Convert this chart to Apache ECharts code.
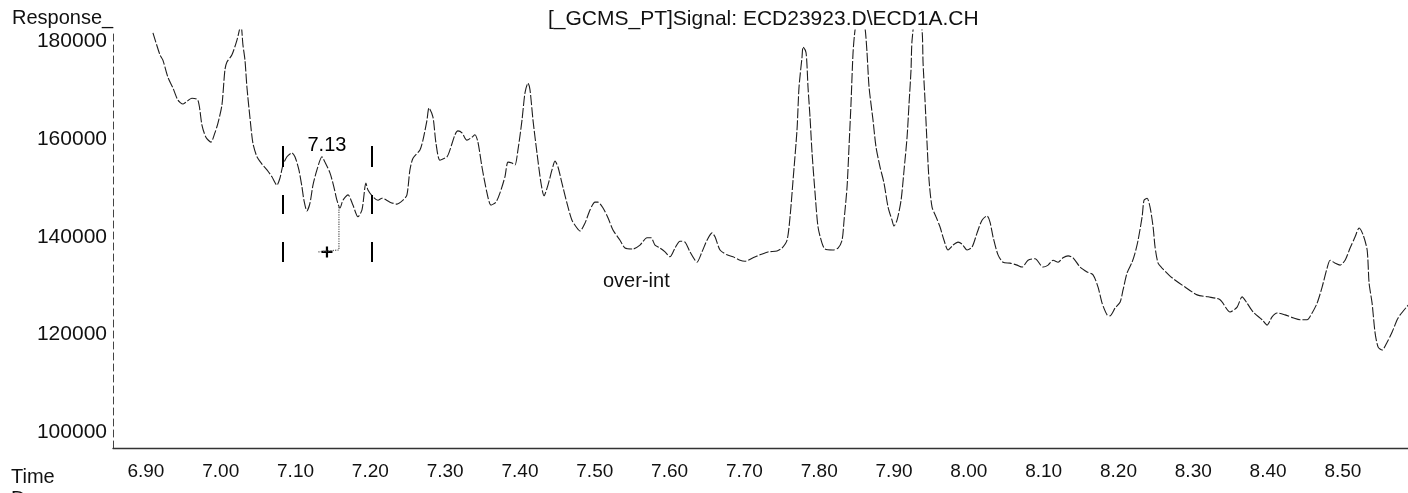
<!DOCTYPE html>
<html>
<head>
<meta charset="utf-8">
<script src="https://cdn.jsdelivr.net/npm/echarts@6/dist/echarts.min.js"></script>
<style>
html,body{margin:0;padding:0;background:#fff;}
#chart{width:1408px;height:493px;}
</style>
</head>
<body>
<div id="chart"></div>
<script>
// ---- data ----
const times = [
6.9094,6.9187,6.9227,6.9294,6.9361,6.9428,6.9495,6.9535,6.9615,6.9695,6.9749,6.9802,6.9869,6.9922,6.9963,7.0016,7.0056,7.0083,7.0150,7.0217,
7.0270,7.0297,7.0324,7.0350,7.0390,7.0430,7.0484,7.0551,7.0618,7.0684,7.0751,7.0791,7.0832,7.0885,7.0952,7.0992,7.1045,7.1086,7.1112,7.1152,
7.1193,7.1233,7.1286,7.1353,7.1393,7.1460,7.1513,7.1553,7.1594,7.1634,7.1701,7.1767,7.1834,7.1888,7.1941,7.1968,7.2035,7.2102,7.2155,7.2262,
7.2356,7.2436,7.2489,7.2529,7.2570,7.2663,7.2703,7.2757,7.2783,7.2837,7.2877,7.2930,7.3024,7.3064,7.3131,7.3171,7.3225,7.3291,7.3358,7.3398,
7.3438,7.3492,7.3559,7.3612,7.3679,7.3733,7.3799,7.3840,7.3893,7.3933,7.3973,7.4027,7.4067,7.4107,7.4134,7.4174,7.4227,7.4281,7.4321,7.4374,
7.4428,7.4468,7.4508,7.4561,7.4628,7.4695,7.4762,7.4802,7.4869,7.4936,7.5003,7.5043,7.5110,7.5176,7.5243,7.5337,7.5404,7.5511,7.5604,7.5698,
7.5751,7.5805,7.5872,7.5939,7.6005,7.6072,7.6139,7.6206,7.6273,7.6340,7.6366,7.6433,7.6500,7.6567,7.6607,7.6674,7.6767,7.6848,7.6941,7.7008,
7.7115,7.7209,7.7316,7.7436,7.7503,7.7570,7.7610,7.7650,7.7703,7.7730,7.7770,7.7784,7.7824,7.7850,7.7877,7.7904,7.7944,7.7984,7.8037,7.8077,
7.8184,7.8251,7.8305,7.8332,7.8372,7.8398,7.8425,7.8452,7.8479,7.8545,7.8612,7.8639,7.8666,7.8719,7.8759,7.8813,7.8866,7.8920,7.8973,7.9000,
7.9040,7.9094,7.9134,7.9174,7.9201,7.9227,7.9241,7.9308,7.9374,7.9388,7.9414,7.9441,7.9468,7.9508,7.9561,7.9615,7.9668,7.9722,7.9789,7.9856,
7.9909,7.9976,8.0043,8.0110,8.0176,8.0243,8.0283,8.0323,8.0390,8.0457,8.0551,8.0644,8.0711,8.0791,8.0885,8.0992,8.1059,8.1126,8.1193,8.1259,
8.1326,8.1393,8.1487,8.1580,8.1660,8.1727,8.1781,8.1848,8.1888,8.1955,8.2021,8.2061,8.2115,8.2182,8.2222,8.2262,8.2316,8.2342,8.2382,8.2422,
8.2463,8.2489,8.2529,8.2583,8.2717,8.2890,8.3051,8.3198,8.3358,8.3492,8.3586,8.3652,8.3719,8.3799,8.3920,8.3987,8.4053,8.4120,8.4227,8.4334,
8.4428,8.4521,8.4588,8.4655,8.4722,8.4789,8.4829,8.4896,8.4963,8.5029,8.5096,8.5163,8.5217,8.5270,8.5324,8.5350,8.5390,8.5430,8.5471,8.5524,
8.5591,8.5658,8.5725,8.5765,8.5872
];
const responses = [
181800,177300,176200,172700,170500,168000,167200,167600,168400,168000,162900,160400,159400,161300,163300,167000,174200,175800,177300,180300,
183400,179300,176200,170700,164500,159200,156400,154900,153700,152300,150600,152000,154700,156400,157200,156400,153700,150200,147500,145300,
146900,150600,153700,156400,155300,153100,150200,147500,145900,147500,148600,146500,144100,145500,151000,149600,148200,147500,147900,147100,
146700,147500,148600,153700,156100,157800,159800,163900,166400,164500,159200,155700,156400,157800,160900,161700,161300,159800,160400,160900,
159400,154300,149000,146500,147100,149000,152300,155300,155100,154700,157800,163900,169500,171500,170100,163900,157200,151000,148400,150600,
153700,155500,154300,151000,146900,143400,141800,141200,142800,145500,147100,147100,145900,143900,141400,139300,137700,137500,138300,139800,
139800,138300,137700,136900,135900,137700,139100,138900,136900,135200,134800,136900,139300,140800,140000,137300,136300,135900,135200,135000,
135700,136300,136900,137100,137700,139300,144100,151600,161900,170700,176800,178900,177700,170700,164500,157200,149000,142000,138700,137500,
137300,137700,139300,143400,150200,158400,167400,177700,182400,188000,182800,177700,170700,163900,158400,154300,151000,146100,143400,142200,
143400,147500,153700,160400,167400,174200,180300,188000,182400,175600,168000,159200,151600,146100,144100,142000,139300,137300,138300,138900,
138500,137300,137900,140800,143400,144300,143000,140000,136300,134800,134600,134200,133800,135200,135500,133800,134200,135200,134800,135700,
136100,135700,133800,132800,132200,129700,126400,124000,123800,125400,126600,129100,132600,134800,136700,139300,144100,147500,147900,146100,
142000,137900,134600,133600,131600,129700,128100,127700,127100,124600,125600,127700,126400,124600,123000,121900,123600,124400,124000,123400,
123000,123000,124400,126400,129700,133600,135200,134600,134200,135200,137700,140000,141800,140400,137300,130500,126400,120300,117400,116800,
118400,120500,123000,124000,126000
];
const yTicks = [100000, 120000, 140000, 160000, 180000];
const xTicks = [6.90, 7.00, 7.10, 7.20, 7.30, 7.40, 7.50, 7.60, 7.70, 7.80, 7.90, 8.00, 8.10, 8.20, 8.30, 8.40, 8.50];
const peakLabel = '7.13';
const peakLabelPoint = [7.142, 158800];
const eventTimes = [7.0832, 7.2021];
const eventBands = [[158600, 154300], [148570, 144670], [138930, 134840]];
const baselineDrop = [[7.158, 146100], [7.158, 137300], [7.130, 136900]];
const crossPoint = [7.142, 136900];

// ---- chart ----
const FONT = '"Liberation Sans", Arial, sans-serif';
const chart = echarts.init(document.getElementById('chart'), null, {renderer: 'canvas'});
const trace = times.map((t, i) => [t, responses[i]]);
const eventSegments = [];
eventTimes.forEach(t => eventBands.forEach(b => eventSegments.push([{coord: [t, b[0]]}, {coord: [t, b[1]]}])));

chart.setOption({
  animation: false,
  backgroundColor: '#ffffff',
  title: [
    {text: 'Response_', left: 7, top: 3, textStyle: {fontFamily: FONT, fontSize: 20, fontWeight: 'normal', color: '#111'}},
    {text: '[_GCMS_PT]Signal: ECD23923.D\\ECD1A.CH', left: 543, top: 4, textStyle: {fontFamily: FONT, fontSize: 21, fontWeight: 'normal', color: '#111'}},
    {text: 'over-int', left: 598, top: 266, textStyle: {fontFamily: FONT, fontSize: 20, fontWeight: 'normal', color: '#111'}},
    {text: 'Time', left: 6, top: 462, textStyle: {fontFamily: FONT, fontSize: 20, fontWeight: 'normal', color: '#111'}},
    {text: 'D', left: 6, top: 484, textStyle: {fontFamily: FONT, fontSize: 20, fontWeight: 'normal', color: '#111'}}
  ],
  grid: {left: 113, right: 0, top: 30, bottom: 45, containLabel: false},
  xAxis: {
    type: 'value', min: 6.856, max: 8.587,
    axisLine: {show: true, onZero: false, lineStyle: {color: '#333', width: 1.3}},
    axisTick: {show: false},
    splitLine: {show: false},
    axisLabel: {customValues: xTicks, formatter: v => Number(v).toFixed(2), fontFamily: FONT, fontSize: 19, color: '#111', margin: 14}
  },
  yAxis: {
    type: 'value', min: 96725, max: 182373,
    axisLine: {show: true, lineStyle: {color: '#444', width: 1, type: [7, 4]}},
    axisTick: {show: false},
    splitLine: {show: false},
    axisLabel: {customValues: yTicks, formatter: v => String(v), fontFamily: FONT, fontSize: 21, color: '#111', margin: 6}
  },
  series: [
    {
      type: 'line', data: trace, symbol: 'none', smooth: 0.25, clip: true,
      lineStyle: {color: '#1e1e1e', width: 1.1, type: [10, 2]},
      markLine: {silent: true, symbol: 'none', label: {show: false},
        lineStyle: {color: '#000', width: 2, type: 'solid'}, data: eventSegments}
    },
    {
      type: 'line', data: baselineDrop, symbol: 'none',
      lineStyle: {color: '#555', width: 1.2, type: 'dotted'}
    },
    {
      type: 'scatter', data: [crossPoint], symbolSize: 11,
      symbol: 'path://M4,0 H6 V4 H10 V6 H6 V10 H4 V6 H0 V4 H4 Z',
      itemStyle: {color: '#000', opacity: 1}
    },
    {
      type: 'scatter', data: [peakLabelPoint], symbolSize: 0,
      itemStyle: {opacity: 1},
      label: {show: true, position: 'inside', formatter: peakLabel, fontFamily: FONT, fontSize: 20, color: '#000'}
    }
  ]
});
</script>
</body>
</html>
